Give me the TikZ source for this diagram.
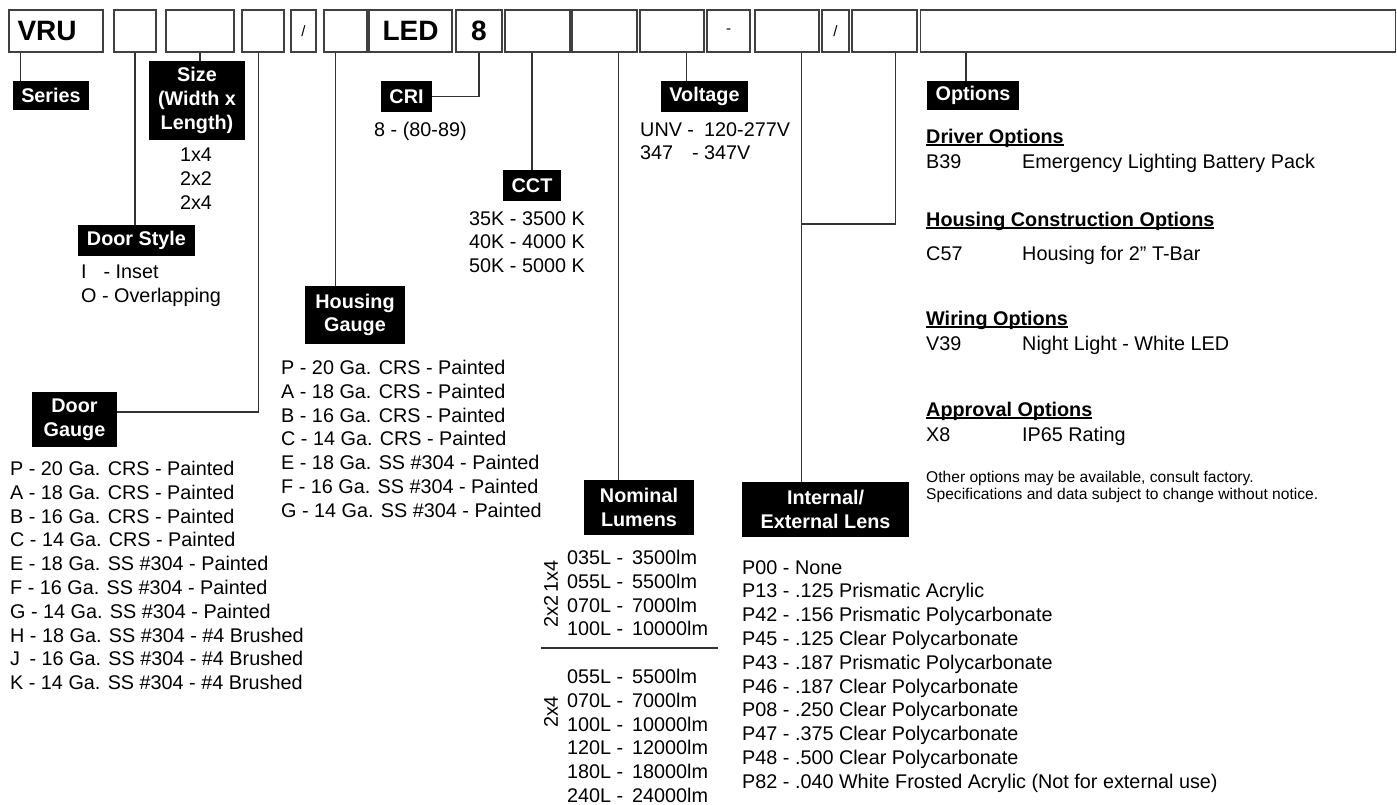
\documentclass[tikz,border=0pt]{standalone}
\usepackage{fontspec}
\setmainfont{Liberation Sans}
\usetikzlibrary{positioning,calc}

\newcommand{\bodyfont}{\fontsize{19.8}{23.8}\selectfont}
\newcommand{\notefont}{\fontsize{15.6}{17.6}\selectfont}
\newcommand{\topfont}{\fontsize{28}{30}\selectfont\bfseries}
\newcommand{\hdr}[1]{{\bfseries\setbox0\hbox{#1}\rlap{\rule[-2.6pt]{\wd0}{1.4pt}}\box0}}

\tikzset{
	cell/.style={draw=black!75, line width=1.3pt, minimum height=42pt, inner sep=0pt},
	tag/.style={fill=black, text=white, font=\bodyfont\bfseries, align=center, inner sep=0pt},
	txt/.style={font=\bodyfont, inner sep=0pt, align=left},
	lead/.style={draw=black!80, line width=1.3pt},
}

\begin{document}
\begin{tikzpicture}[x=1pt,y=-1pt]
	\useasboundingbox (0,0) rectangle (1397,804);
	
	% catalog number boxes
	\node[cell, minimum width=94pt] (vru) at (56,31) {};
	\node[cell, minimum width=42pt] (ds) at (135,31) {};
	\node[cell, minimum width=68pt] (size) at (200,31) {};
	\node[cell, minimum width=42pt] (dg) at (263,31) {};
	\node[cell, minimum width=25pt] (sl1) at (303.5,31) {\fontsize{15}{16}\selectfont /};
	\node[cell, minimum width=43pt] (hg) at (345.5,31) {};
	\node[cell, minimum width=83pt] (led) at (410.5,31) {\topfont LED};
	\node[cell, minimum width=46pt] (cri) at (479,31) {\topfont 8};
	\node[cell, minimum width=65pt] (cct) at (537.5,31) {};
	\node[cell, minimum width=65pt] (lum) at (604.5,31) {};
	\node[cell, minimum width=64pt] (volt) at (672,31) {};
	\node[cell, minimum width=43pt] (dash) at (728.5,31) {\fontsize{15}{16}\selectfont -};
	\node[cell, minimum width=64pt] (lens) at (787,31) {};
	\node[cell, minimum width=27pt] (sl2) at (835.5,31) {\fontsize{15}{16}\selectfont /};
	\node[cell, minimum width=65pt] (opt) at (884.5,31) {};
	\node[cell, minimum width=475pt] (options) at (1158,31) {};
	\node[font=\topfont, inner sep=0pt, right=9pt of vru.west] (vrutxt) {VRU};
	
	% black tags
	\node[tag, minimum width=76pt, minimum height=29pt] (series) at (51,95.5) {Series};
	\node[tag, minimum width=96pt, minimum height=79pt] (sizelbl) at (197,100.5) {Size\\(Width x\\Length)};
	\node[tag, minimum width=117pt, minimum height=31pt] (doorstyle) at (136.5,240.5) {Door Style};
	\node[tag, minimum width=85pt, minimum height=55pt] (doorgauge) at (74.5,419.5) {Door\\Gauge};
	\node[tag, minimum width=100pt, minimum height=58pt] (housing) at (355,315) {Housing\\Gauge};
	\node[tag, minimum width=51pt, minimum height=31pt] (crilbl) at (406.5,96.5) {CRI};
	\node[tag, minimum width=58pt, minimum height=31pt] (cctlbl) at (532,185.5) {CCT};
	\node[tag, minimum width=87pt, minimum height=31pt] (voltlbl) at (704.5,96.5) {Voltage};
	\node[tag, minimum width=110pt, minimum height=55pt] (lumlbl) at (639,507.5) {Nominal\\Lumens};
	\node[tag, minimum width=167pt, minimum height=55pt] (lenslbl) at (825.5,509.5) {Internal/\\External Lens};
	\node[tag, minimum width=92pt, minimum height=29pt] (optlbl) at (973,95.5) {Options};
	
	% leaders
	\draw[lead] ([xshift=12pt]vru.south west) -- ([xshift=12pt]vru.south west |- series.north);
	\draw[lead] (ds.south) -- (ds.south |- doorstyle.north);
	\draw[lead] (size.south) -- (size.south |- sizelbl.north);
	\draw[lead] ([xshift=17pt]dg.south west) |- ([yshift=7.5pt]doorgauge.east);
	\draw[lead] ([xshift=12pt]hg.south west) -- ([xshift=12pt]hg.south west |- housing.north);
	\draw[lead] (cri.south) |- (crilbl.east);
	\draw[lead] (cctlbl.north) -- (cctlbl.north |- cct.south);
	\draw[lead] ([xshift=47pt]lum.south west) -- ([xshift=47pt]lum.south west |- lumlbl.north);
	\draw[lead] ([xshift=47pt]volt.south west) -- ([xshift=47pt]volt.south west |- voltlbl.north);
	\draw[lead] ([xshift=47pt]lens.south west) -- ([xshift=47pt]lens.south west |- lenslbl.north);
	\coordinate (join) at (802,224);
	\draw[lead] ([xshift=44pt]opt.south west) |- (join);
	\draw[lead] ([xshift=46pt]options.south west) -- ([xshift=46pt]options.south west |- optlbl.north);
	
	% choices
	\node[txt, align=center, anchor=north] (sizes) at (196,148) {1x4\\2x2\\2x4};
	\node[txt, anchor=north west] (dslist) at (81,265) {I\hspace{0.85em}- Inset\\O - Overlapping};
	\node[txt, anchor=north west] (dglist) at (10,461) {P - 20 Ga. CRS - Painted\\A - 18 Ga. CRS - Painted\\B - 16 Ga. CRS - Painted\\C - 14 Ga. CRS - Painted\\E - 18 Ga. SS \#304 - Painted\\F - 16 Ga. SS \#304 - Painted\\G - 14 Ga. SS \#304 - Painted\\H - 18 Ga. SS \#304 - \#4 Brushed\\J\hspace{0.2em} - 16 Ga. SS \#304 - \#4 Brushed\\K - 14 Ga. SS \#304 - \#4 Brushed};
	\node[txt, anchor=north west] (hglist) at (281,360) {P - 20 Ga. CRS - Painted\\A - 18 Ga. CRS - Painted\\B - 16 Ga. CRS - Painted\\C - 14 Ga. CRS - Painted\\E - 18 Ga. SS \#304 - Painted\\F - 16 Ga. SS \#304 - Painted\\G - 14 Ga. SS \#304 - Painted};
	\node[txt, anchor=north west] (crilist) at (374,122) {8 - (80-89)};
	\node[txt, anchor=north west] (cctlist) at (469,211) {35K - 3500 K\\40K - 4000 K\\50K - 5000 K};
	\node[txt, anchor=north west] (voltlist) at (640,122) {\makebox[64pt][l]{UNV -}120-277V\\\makebox[64pt][l]{347\hspace{0.95em}-}347V};
	
	% lumens, split by size
	\node[txt, anchor=north west] (lumtop) at (567,550) {\makebox[65pt][l]{035L -}3500lm\\\makebox[65pt][l]{055L -}5500lm\\\makebox[65pt][l]{070L -}7000lm\\\makebox[65pt][l]{100L -}10000lm};
	\draw[lead] (541,648) -- (718,648);
	\node[txt, anchor=north west] (lumbot) at (567,669) {\makebox[65pt][l]{055L -}5500lm\\\makebox[65pt][l]{070L -}7000lm\\\makebox[65pt][l]{100L -}10000lm\\\makebox[65pt][l]{120L -}12000lm\\\makebox[65pt][l]{180L -}18000lm\\\makebox[65pt][l]{240L -}24000lm};
	\node[txt, rotate=90] (r14) at (551,576.5) {1x4};
	\node[txt, rotate=90] (r22) at (551,611.5) {2x2};
	\node[txt, rotate=90] (r24) at (551,712) {2x4};
	
	\node[txt, anchor=north west] (lenslist) at (742,560) {P00 - None\\P13 - .125 Prismatic Acrylic\\P42 - .156 Prismatic Polycarbonate\\P45 - .125 Clear Polycarbonate\\P43 - .187 Prismatic Polycarbonate\\P46 - .187 Clear Polycarbonate\\P08 - .250 Clear Polycarbonate\\P47 - .375 Clear Polycarbonate\\P48 - .500 Clear Polycarbonate\\P82 - .040 White Frosted Acrylic (Not for external use)};
	
	% options column
	\node[txt, anchor=base west] (drv) at (926,143) {\hdr{Driver Options}};
	\node[txt, anchor=base west] (b39) at (926,168) {B39};
	\node[txt, anchor=base west] (b39d) at (1022,168) {Emergency Lighting Battery Pack};
	\node[txt, anchor=base west] (hsg) at (926,226) {\hdr{Housing Construction Options}};
	\node[txt, anchor=base west] (c57) at (926,260) {C57};
	\node[txt, anchor=base west] (c57d) at (1022,260) {Housing for 2” T-Bar};
	\node[txt, anchor=base west] (wir) at (926,325) {\hdr{Wiring Options}};
	\node[txt, anchor=base west] (v39) at (926,350) {V39};
	\node[txt, anchor=base west] (v39d) at (1022,350) {Night Light - White LED};
	\node[txt, anchor=base west] (apr) at (926,416) {\hdr{Approval Options}};
	\node[txt, anchor=base west] (x8) at (926,441) {X8};
	\node[txt, anchor=base west] (x8d) at (1022,441) {IP65 Rating};
	\node[txt, font=\notefont, anchor=north west] (note) at (926,470.5) {Other options may be available, consult factory.\\Specifications and data subject to change without notice.};
\end{tikzpicture}
\end{document}
